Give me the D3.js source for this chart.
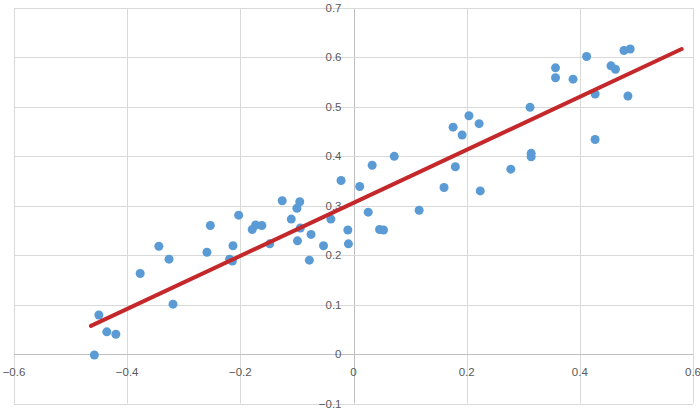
<!DOCTYPE html>
<html>
<head>
<meta charset="utf-8">
<title>scatter trend</title>
<style>
  body {margin:0;background:#fff;}
  svg {display:block;}
  .tick-label {font-family:"Liberation Sans", Arial, sans-serif;font-size:11.5px;fill:#595959;}
</style>
</head>
<body>
<svg id="chart" width="700" height="415"></svg>
<script src="https://cdn.jsdelivr.net/npm/d3@7"></script>
<script>
// values
var xs = [-0.458,-0.450,-0.436,-0.420,-0.377,-0.344,-0.326,-0.319,-0.259,-0.253,
          -0.219,-0.214,-0.213,-0.203,-0.179,-0.173,-0.162,-0.148,-0.126,-0.110,
          -0.100,-0.095,-0.094,-0.099,-0.075,-0.078,-0.053,-0.040,-0.010,-0.009,
          -0.022, 0.011, 0.033, 0.072, 0.026, 0.116, 0.046, 0.053, 0.160, 0.176,
           0.180, 0.192, 0.204, 0.222, 0.224, 0.278, 0.312, 0.314, 0.314, 0.357,
           0.357, 0.388, 0.412, 0.427, 0.427, 0.455, 0.463, 0.478, 0.489, 0.485];
var ys = [-0.002, 0.079, 0.045, 0.040, 0.163, 0.218, 0.192, 0.101, 0.206, 0.260,
           0.192, 0.188, 0.219, 0.281, 0.252, 0.261, 0.260, 0.223, 0.310, 0.273,
           0.295, 0.308, 0.255, 0.229, 0.242, 0.190, 0.219, 0.273, 0.251, 0.223,
           0.351, 0.339, 0.382, 0.400, 0.287, 0.291, 0.252, 0.251, 0.337, 0.459,
           0.379, 0.443, 0.482, 0.466, 0.330, 0.374, 0.499, 0.406, 0.399, 0.579,
           0.559, 0.556, 0.602, 0.526, 0.434, 0.583, 0.576, 0.614, 0.617, 0.522];
var trendX = [-0.464, 0.580];
var trendY = [0.057, 0.617];
var xTicks = [-0.6,-0.4,-0.2,0,0.2,0.4,0.6];
var yTicks = [-0.1,0,0.1,0.2,0.3,0.4,0.5,0.6,0.7];

var svg = d3.select("#chart");
var x = d3.scaleLinear().domain([-0.6,0.6]).range([14,693]);
var y = d3.scaleLinear().domain([-0.1,0.7]).range([403.5,8]);
var fmt = function(d){ return d === 0 ? "0" : d3.format(".1f")(d); };

// grid
svg.append("g").selectAll("line").data(xTicks).enter().append("line")
  .attr("x1",function(d){return Math.round(x(d))+0.5}).attr("x2",function(d){return Math.round(x(d))+0.5})
  .attr("y1",y(0.7)).attr("y2",y(-0.1))
  .attr("stroke",function(d){return d===0?"#bfbfbf":"#d9d9d9"}).attr("stroke-width",1);
svg.append("g").selectAll("line").data(yTicks).enter().append("line")
  .attr("y1",function(d){return Math.round(y(d))+0.5}).attr("y2",function(d){return Math.round(y(d))+0.5})
  .attr("x1",x(-0.6)).attr("x2",x(0.6))
  .attr("stroke",function(d){return d===0?"#bfbfbf":"#d9d9d9"}).attr("stroke-width",1);

// tick labels sit on the zero axes
svg.append("g").selectAll("text").data(xTicks).enter().append("text")
  .attr("class","tick-label").attr("x",function(d){return x(d)}).attr("y",y(0)+22)
  .attr("text-anchor","middle").text(fmt);
svg.append("g").selectAll("text").data(yTicks).enter().append("text")
  .attr("class","tick-label").attr("x",x(0)-12).attr("y",function(d){return y(d)}).attr("dy","0.35em")
  .attr("text-anchor","end").text(fmt);

// points
svg.append("g").selectAll("circle").data(d3.range(xs.length)).enter().append("circle")
  .attr("cx",function(i){return x(xs[i])}).attr("cy",function(i){return y(ys[i])})
  .attr("r",4.5).attr("fill","#5b9bd5");

// trend line
var line = d3.line().x(function(i){return x(trendX[i])}).y(function(i){return y(trendY[i])});
svg.append("path").datum([0,1]).attr("d",line)
  .attr("stroke","#c5282a").attr("stroke-width",4).attr("fill","none").attr("stroke-linecap","round");
</script>
</body>
</html>
